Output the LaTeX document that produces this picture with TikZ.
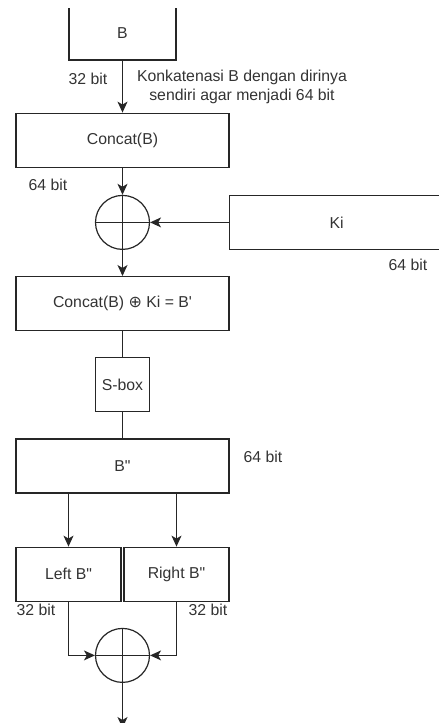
\documentclass[tikz,border=0pt]{standalone}
\usepackage{fontspec}
\setmainfont{Liberation Sans}
\newfontfamily\symfont{DejaVu Sans}
\usetikzlibrary{positioning, arrows.meta, calc}
\definecolor{linegray}{HTML}{262626}
\definecolor{textgray}{HTML}{333333}

\begin{document}
\begin{tikzpicture}[
    x=1pt, y=-1pt,
    node distance=26pt,
    % Define styles
    base/.style={rectangle, draw=linegray, line width=1.2pt, align=center, text=textgray, inner sep=0pt, font=\fontsize{15.8}{19}\selectfont},
    wide/.style={base, minimum width=213pt, minimum height=54pt},
    half/.style={base, minimum width=105pt, minimum height=54pt},
    small/.style={base, minimum width=54pt, minimum height=54pt},
    xor/.style={circle, draw=linegray, line width=1.2pt, minimum size=54pt, inner sep=0pt,
        path picture={\draw[linegray, line width=1.2pt] (path picture bounding box.north) -- (path picture bounding box.south)
            (path picture bounding box.west) -- (path picture bounding box.east);}},
    lbl/.style={text=textgray, font=\fontsize{15.8}{19}\selectfont, inner sep=0pt, align=center},
    arrow/.style={-{Stealth[length=11pt, width=10pt, inset=3pt]}, line width=1.2pt, draw=linegray},
    wire/.style={line width=1.2pt, draw=linegray}
]
    \useasboundingbox (0,0) rectangle (439,723);
    \clip (0,8) rectangle (439,723);

    % --- TOP ---
    \node (blok) [base, minimum width=107pt, minimum height=54pt] at (122.5,33) {B};
    \node (concat) [wide, below=52pt of blok] {Concat(B)};

    % --- XOR WITH KEY ---
    \node (xor1) [xor, below=27pt of concat] {};
    \node (ki) [base, minimum width=214pt, minimum height=54pt, right=79pt of xor1] {Ki};
    \node (bprime) [wide, below=of xor1] {Concat(B) {\symfont\fontsize{16}{16}\selectfont ⊕} Ki = B\textquotesingle};

    % --- SUBSTITUTION ---
    \node (sbox) [small, below=of bprime] {S-box};
    \node (bdouble) [wide, below=of sbox] {B\textquotedbl};

    % --- SPLIT AND MERGE ---
    \node (leftb) [half, below right=53pt and 0pt of bdouble.south west] {Left B\textquotedbl};
    \node (rightb) [half, below left=53pt and 0pt of bdouble.south east] {Right B\textquotedbl};
    \node (xor2) [xor, below=26pt of $(leftb.south)!0.5!(rightb.south)$] {};
    \coordinate [below=45pt of xor2] (out);

    % --- LABELS ---
    \node [lbl] at (88,79) {32 bit};
    \node [lbl] at (242,87) {Konkatenasi B dengan dirinya\\sendiri agar menjadi 64 bit};
    \node [lbl] at (48,185) {64 bit};
    \node [lbl] at (408,265) {64 bit};
    \node [lbl] at (263,457) {64 bit};
    \node [lbl] at (36,610) {32 bit};
    \node [lbl] at (208,610) {32 bit};

    % --- DRAW CONNECTIONS ---
    \draw [arrow] (blok) -- (concat);
    \draw [arrow] (concat) -- (xor1);
    \draw [arrow] (ki) -- (xor1);
    \draw [arrow] (xor1) -- (bprime);
    \draw [wire] (bprime) -- (sbox);
    \draw [wire] (sbox) -- (bdouble);
    \draw [arrow] (leftb.north |- bdouble.south) -- (leftb);
    \draw [arrow] (rightb.north |- bdouble.south) -- (rightb);
    \draw [arrow] (leftb.south) |- (xor2.west);
    \draw [arrow] (rightb.south) |- (xor2.east);
    \draw [arrow] (xor2) -- (out);

\end{tikzpicture}
\end{document}
